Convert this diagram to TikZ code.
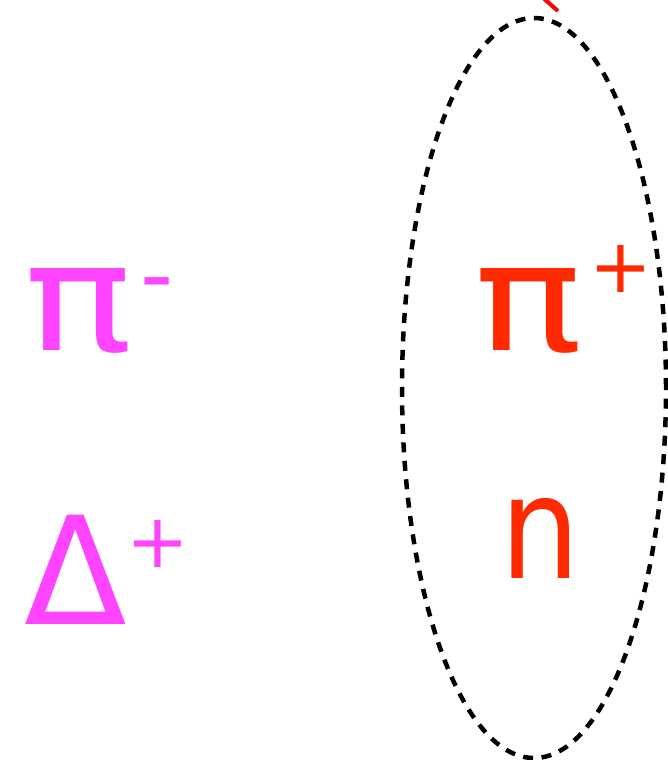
\documentclass[tikz,border=0pt]{standalone}
\usepackage{fontspec}
\setmainfont{DejaVu Sans}
\definecolor{mag}{HTML}{FF44FF}
\definecolor{orred}{HTML}{FF2A00}
\begin{document}
\begin{tikzpicture}[x=1pt,y=-1pt,
  big/.style={inner sep=0pt,anchor=base west,font=\fontsize{150}{150}\selectfont},
  sup/.style={inner sep=0pt,anchor=base west,font=\fontsize{75}{75}\selectfont},
  supm/.style={inner sep=0pt,anchor=base west,font=\fontsize{92}{92}\selectfont}]
\useasboundingbox (0,0) rectangle (668,760);
% texts
\node[big,text=mag] (pim) at (24,350) {\scalebox{1.2}[1]{π}};
\node[supm,text=mag] (pimsup) at (140,306) {-};
\node[big,text=mag] (delta) at (24,624) {Δ};
\node[sup,text=mag] (deltasup) at (126,567) {+};
\node[big,text=orred] (pip) at (474,350) {\scalebox{1.2}[1]{π}};
\node[sup,text=orred] (pipsup) at (589,292) {+};
\node[inner sep=0pt,anchor=base west,font=\fontsize{143}{143}\selectfont,text=orred] (n) at (500,578) {\scalebox{0.88}[1]{n}};
% dashed ellipse
\draw[line width=4.5pt,dash pattern=on 10pt off 8.5pt] (534,388) ellipse [x radius=132pt, y radius=370pt];
% red line at top
\coordinate (ra) at (542,-3);
\coordinate (rb) at (558,11);
\draw[red,line width=4pt] (ra) -- (rb);
\end{tikzpicture}
\end{document}
